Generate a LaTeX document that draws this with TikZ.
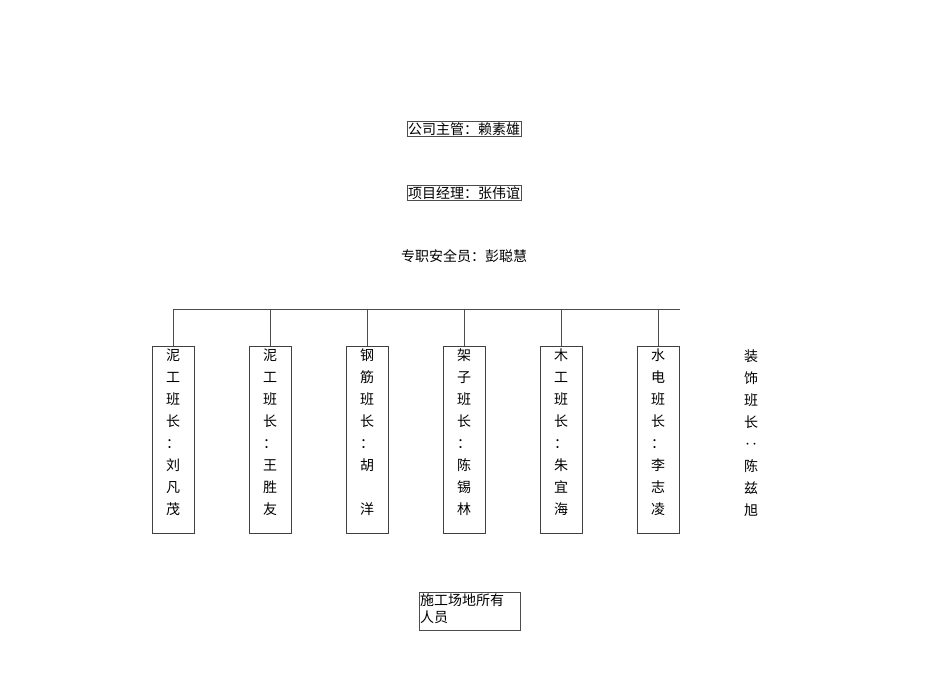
\documentclass[tikz,border=0pt]{standalone}
\usepackage{fontspec}
\newfontfamily\cjk{Noto Sans CJK SC}
\begin{document}
\begin{tikzpicture}[x=1pt,y=-1pt,
  tbox/.style={draw=black!70,line width=0.8pt,inner sep=1pt,font=\cjk\fontsize{14}{16}\selectfont},
  col/.style={draw=black!75,line width=0.9pt,minimum width=42pt,minimum height=187pt,anchor=north},
  coltext/.style={font=\cjk\fontsize{14}{22}\selectfont,align=center,anchor=north,inner sep=0pt},
  link/.style={draw=black!70,line width=0.8pt}]
\useasboundingbox (0,0) rectangle (950,672);
\node[tbox] (boss) at (464,129) {公司主管：赖素雄};
\node[tbox] (pm) at (464,193) {项目经理：张伟谊};
\node[font=\cjk\fontsize{14}{16}\selectfont] (safe) at (464,256) {专职安全员：彭聪慧};
\coordinate (hl) at (173,309);
\coordinate (hr) at (680,309);
\draw[link] (hl) -- (hr);
\foreach \i/\x/\t in {1/173/{泥\\工\\班\\长\\：\\刘\\凡\\茂},2/270/{泥\\工\\班\\长\\：\\王\\胜\\友},3/367/{钢\\筋\\班\\长\\：\\胡\\ \\洋},4/464/{架\\子\\班\\长\\：\\陈\\锡\\林},5/561/{木\\工\\班\\长\\：\\朱\\宜\\海},6/658/{水\\电\\班\\长\\：\\李\\志\\凌}}{
  \node[col] (b\i) at (\x,346) {};
  \node[coltext] (t\i) at (\x,349) {\t};
  \coordinate (j\i) at (\x,309);
  \draw[link] (j\i) -- (b\i.north);
}
\node[coltext] (t7) at (751,350) {装\\饰\\班\\长\\‥\\陈\\兹\\旭};
\node[draw=black!70,line width=0.8pt,minimum width=101pt,minimum height=38pt,anchor=north west,inner sep=0pt] (all) at (419,592) {};
\node[font=\cjk\fontsize{14}{17}\selectfont,align=left,anchor=north west,inner sep=0pt] (allt) at (420,594) {施工场地所有\\人员};
\end{tikzpicture}
\end{document}
